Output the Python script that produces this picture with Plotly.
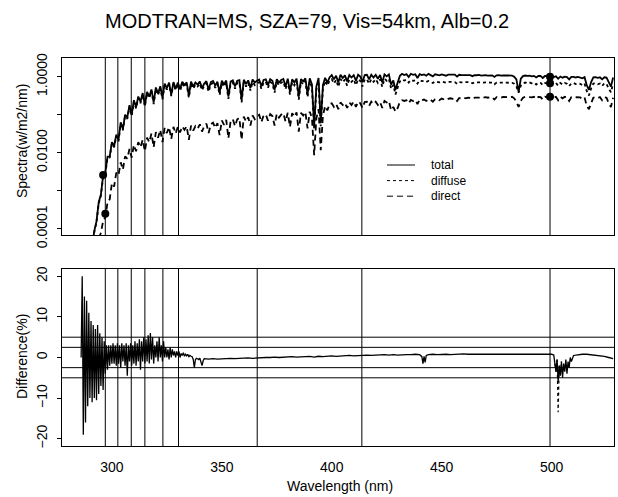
import plotly.graph_objects as go

# ---------------- data ----------------
# spectral grid (nm) for the modelled irradiance spectra
wl_spec = list(range(290, 529))

# total irradiance (W/m2/nm)
total = [
    2.0e-5, 3.5e-5, 8.9e-5, 1.6e-4, 5.0e-4, 8.0e-4, 2.5e-3, 3.0e-3, 7.9e-3, 8.0e-3,
    1.9e-2, 1.5e-2, 3.0e-2, 2.2e-2, 6.3e-2, 4.2e-2, 0.10, 0.085, 0.178, 0.10,
    0.24, 0.16, 0.30, 0.22, 0.37, 0.18, 0.40, 0.30, 0.46, 0.21,
    0.52, 0.36, 0.56, 0.28, 0.66, 0.50, 0.70, 0.34, 0.72, 0.48,
    0.70, 0.48, 0.73, 0.60, 0.71, 0.32, 0.74, 0.55, 0.70, 0.62,
    0.74, 0.50, 0.66, 0.76, 0.45, 0.72, 0.77, 0.58, 0.74, 0.38,
    0.78, 0.62, 0.79, 0.30, 0.74, 0.80, 0.55, 0.78, 0.81, 0.25,
    0.83, 0.64, 0.80, 0.50, 0.84, 0.70, 0.78, 0.84, 0.56, 0.82,
    0.85, 0.60, 0.86, 0.78, 0.45, 0.86, 0.70, 0.82, 0.87, 0.55,
    0.88, 0.40, 0.85, 0.70, 0.89, 0.30, 0.86, 0.75, 0.90, 0.35,
    0.90, 0.62, 0.05, 0.55, 0.92, 0.06, 0.60, 0.93, 0.70, 0.95,
    1.10, 0.85, 1.05, 0.70, 1.12, 0.92, 1.08, 0.75, 1.10, 0.95,
    1.10, 0.78, 1.12, 1.00, 0.72, 1.10, 1.12, 0.85, 1.12, 0.95,
    1.12, 0.88, 1.10, 0.70, 1.15, 1.02, 1.15, 0.62, 0.80, 0.45,
    0.70, 1.05, 1.18, 1.10, 1.16, 0.98, 1.19, 1.12, 1.15, 0.92,
    1.17, 1.10, 1.14, 1.06, 1.18, 1.12, 1.02, 1.15, 1.13, 1.08,
    1.14, 1.11, 1.06, 1.13, 1.12, 1.09, 1.13, 1.00, 1.12, 1.10,
    1.11, 1.08, 1.12, 1.10, 1.03, 1.10, 1.09, 1.11, 1.06, 1.09,
    1.10, 1.07, 1.09, 1.08, 0.98, 1.08, 1.09, 1.06, 1.08, 1.07,
    1.08, 1.04, 1.07, 1.00, 0.85, 0.40, 0.88, 1.03, 1.07, 1.05,
    1.06, 1.02, 1.05, 0.95, 1.04, 1.05, 0.92, 1.04, 1.02, 1.03,
    1.03, 0.98, 1.02, 0.88, 1.01, 0.94, 1.00, 0.97, 0.85, 0.99,
    0.99, 0.95, 0.98, 0.96, 0.90, 0.97, 0.60, 0.45, 0.72, 0.96,
    0.97, 0.93, 0.96, 0.85, 0.96, 0.94, 0.70, 0.55, 0.95,
]

# diffuse irradiance (W/m2/nm)
diffuse = [
    1.9e-5, 3.3e-5, 8.4e-5, 1.5e-4, 4.7e-4, 7.5e-4, 2.35e-3, 2.8e-3, 7.4e-3, 7.5e-3,
    1.75e-2, 1.4e-2, 2.75e-2, 2.0e-2, 5.8e-2, 3.9e-2, 0.092, 0.078, 0.163, 0.092,
    0.22, 0.147, 0.275, 0.2, 0.34, 0.165, 0.37, 0.275, 0.42, 0.19,
    0.475, 0.33, 0.51, 0.255, 0.6, 0.455, 0.64, 0.31, 0.655, 0.44,
    0.62, 0.42, 0.65, 0.53, 0.63, 0.28, 0.65, 0.48, 0.62, 0.55,
    0.65, 0.44, 0.58, 0.67, 0.40, 0.63, 0.68, 0.51, 0.65, 0.33,
    0.68, 0.54, 0.69, 0.26, 0.65, 0.70, 0.48, 0.68, 0.70, 0.21,
    0.72, 0.55, 0.69, 0.43, 0.72, 0.60, 0.67, 0.72, 0.48, 0.70,
    0.73, 0.51, 0.73, 0.66, 0.38, 0.73, 0.59, 0.70, 0.74, 0.47,
    0.75, 0.34, 0.72, 0.59, 0.75, 0.25, 0.73, 0.63, 0.76, 0.29,
    0.76, 0.52, 0.042, 0.46, 0.77, 0.05, 0.50, 0.77, 0.58, 0.78,
    0.86, 0.66, 0.82, 0.54, 0.87, 0.71, 0.84, 0.58, 0.85, 0.73,
    0.85, 0.60, 0.86, 0.77, 0.55, 0.85, 0.86, 0.65, 0.86, 0.73,
    0.86, 0.68, 0.85, 0.54, 0.88, 0.78, 0.88, 0.48, 0.61, 0.34,
    0.52, 0.75, 0.84, 0.79, 0.83, 0.70, 0.82, 0.78, 0.80, 0.66,
    0.80, 0.76, 0.78, 0.73, 0.77, 0.74, 0.68, 0.75, 0.74, 0.71,
    0.74, 0.72, 0.69, 0.73, 0.72, 0.71, 0.72, 0.65, 0.72, 0.71,
    0.72, 0.70, 0.72, 0.71, 0.67, 0.71, 0.70, 0.71, 0.68, 0.70,
    0.71, 0.69, 0.70, 0.70, 0.63, 0.70, 0.70, 0.68, 0.70, 0.69,
    0.70, 0.67, 0.69, 0.65, 0.55, 0.38, 0.58, 0.67, 0.70, 0.68,
    0.70, 0.67, 0.69, 0.62, 0.69, 0.69, 0.60, 0.68, 0.67, 0.68,
    0.69, 0.65, 0.68, 0.58, 0.68, 0.62, 0.68, 0.65, 0.56, 0.67,
    0.68, 0.64, 0.67, 0.65, 0.60, 0.66, 0.42, 0.32, 0.49, 0.66,
    0.67, 0.63, 0.66, 0.57, 0.67, 0.64, 0.49, 0.39, 0.66,
]

# direct irradiance (W/m2/nm)
direct = [
    1.0e-5, 1.5e-5, 2.5e-5, 3.5e-5, 5.6e-5, 8.0e-5, 1.6e-4, 2.0e-4, 5.0e-4, 6.0e-4,
    1.6e-3, 1.3e-3, 3.0e-3, 2.6e-3, 5.6e-3, 3.6e-3, 8.0e-3, 7.0e-3, 1.26e-2, 7.5e-3,
    1.6e-2, 1.1e-2, 1.9e-2, 1.4e-2, 2.2e-2, 1.1e-2, 2.5e-2, 1.9e-2, 3.2e-2, 1.4e-2,
    3.5e-2, 2.5e-2, 4.0e-2, 1.9e-2, 4.5e-2, 3.3e-2, 4.7e-2, 2.3e-2, 4.8e-2, 3.2e-2,
    4.8e-2, 3.4e-2, 4.9e-2, 4.0e-2, 5.0e-2, 2.2e-2, 5.2e-2, 3.8e-2, 5.0e-2, 4.3e-2,
    5.6e-2, 3.6e-2, 5.0e-2, 5.8e-2, 3.3e-2, 5.6e-2, 6.2e-2, 4.5e-2, 6.0e-2, 2.9e-2,
    7.1e-2, 5.4e-2, 7.3e-2, 2.4e-2, 6.8e-2, 7.6e-2, 5.0e-2, 7.6e-2, 8.2e-2, 2.2e-2,
    8.9e-2, 6.6e-2, 8.6e-2, 5.2e-2, 9.5e-2, 7.6e-2, 9.0e-2, 0.10, 6.4e-2, 9.6e-2,
    0.102, 7.0e-2, 0.104, 9.2e-2, 5.2e-2, 0.106, 8.4e-2, 0.10, 0.11, 6.6e-2,
    0.112, 4.8e-2, 0.11, 8.8e-2, 0.115, 3.6e-2, 0.112, 9.6e-2, 0.118, 4.4e-2,
    0.12, 8.2e-2, 0.0087, 8.0e-2, 0.14, 0.0117, 9.5e-2, 0.17, 0.13, 0.19,
    0.20, 0.16, 0.19, 0.14, 0.21, 0.18, 0.205, 0.15, 0.21, 0.18,
    0.22, 0.16, 0.22, 0.2, 0.15, 0.215, 0.22, 0.17, 0.22, 0.19,
    0.22, 0.18, 0.215, 0.15, 0.23, 0.21, 0.23, 0.13, 0.16, 0.12,
    0.15, 0.22, 0.24, 0.23, 0.24, 0.20, 0.245, 0.23, 0.245, 0.19,
    0.25, 0.24, 0.25, 0.23, 0.255, 0.245, 0.22, 0.255, 0.26, 0.24,
    0.265, 0.255, 0.24, 0.26, 0.27, 0.26, 0.27, 0.23, 0.275, 0.265,
    0.28, 0.27, 0.28, 0.275, 0.26, 0.28, 0.285, 0.28, 0.27, 0.285,
    0.29, 0.28, 0.29, 0.285, 0.25, 0.29, 0.29, 0.28, 0.295, 0.29,
    0.295, 0.285, 0.295, 0.27, 0.22, 0.16, 0.23, 0.28, 0.295, 0.29,
    0.295, 0.285, 0.295, 0.26, 0.295, 0.29, 0.25, 0.295, 0.29, 0.29,
    0.295, 0.28, 0.295, 0.24, 0.295, 0.27, 0.295, 0.285, 0.23, 0.29,
    0.29, 0.28, 0.29, 0.285, 0.26, 0.285, 0.17, 0.14, 0.2, 0.28,
    0.29, 0.275, 0.29, 0.24, 0.29, 0.28, 0.2, 0.16, 0.28,
]

# radiometer channel centres (nm)
channels = [297.0, 302.7, 308.8, 315.0, 323.2, 330.3, 366.1, 413.7, 499.3]

# measured irradiance points at the channels
meas_wl = [296.0, 297.0, 499.3, 499.3, 499.3]
meas_val = [2.6e-3, 2.5e-4, 1.0, 0.67, 0.295]

# percentage difference, model vs. reference (UV part on a 0.5 nm grid)
diff_uv = [
    0, 20, -19, 15, -16, 14, -12, 11, -10, 9,
    -11, 8, -10, 7, -10.5, 8, -9, 6, -7, 5,
    -8, 4, -4, 3, -3, 3, -2, 3, -1.5, 3.5,
    -1.5, 3, -2, 3.5, -1.5, 3, -2.5, 3.5, -1, 3,
    -2, 3.5, -4.5, 3, -1, 3.5, -2, 3, -1.5, 4,
    -2, 3.5, -1, 4.5, -3, 4, -1, 5, -1.5, 4.5,
    -1, 5.5, -1.5, 6, -0.5, 5, -1.5, 3, 0, 4,
    -1, 5, 0, 3, -1, 4, 0, 2.5, 0, 2,
    -0.5, 2.5, 0, 2, 0.5, 1.5, 0, 1.5, 0.5, 1.5,
    0, 1, 0.5, 1.2, 0.3, 0.8, 0.4, 0.8, 0.2, 0.5,
    0.3, 0.2, -0.5, -2.5, -0.5, -0.2, -0.3, -0.5, -0.2, -1.0,
    -2.0, -0.8,
]
wl_uv = [286 + 0.5 * i for i in range(len(diff_uv))]

wl_vis = (
    list(range(342, 441, 2))
    + [441, 441.5, 442, 442.5, 443, 444]
    + list(range(446, 501, 2))
    + [501, 501.5, 502, 502.5, 503, 503.5, 504, 504.5, 505,
       505.5, 506, 506.5, 507, 507.5, 508, 508.5, 509]
    + list(range(510, 529, 2))
)
diff_vis = [
    -0.3, -0.4, -0.3, -0.4, -0.3, -0.3, -0.2, -0.3, -0.2, -0.2,
    -0.1, -0.2, -0.1, -0.1, 0, 0, 0.1, 0, 0.1, 0.1,
    0.2, 0.1, 0.2, 0.2, 0.3, 0.1, 0.3, 0.2, 0.3, 0.4,
    0.3, 0.4, 0.4, 0.5, 0.4, 0.5, 0.5, 0.6, 0.5, 0.6,
    0.6, 0.7, 0.6, 0.7, 0.6, 0.7, 0.7, 0.7, 0.8, 0.7,
    0.2, -1.5, 0.3, -1.2, 0.5, 0.7,
    0.8, 0.7, 0.8, 0.8, 0.7, 0.8, 0.8, 0.9, 0.8, 0.8,
    0.9, 0.8, 0.9, 0.9, 0.8, 0.9, 0.9, 0.8, 0.9, 0.9,
    0.8, 0.9, 0.8, 0.9, 0.8, 0.8, 0.9, 0.8,
    0.6, -1.5, -3.5, -0.5, -6, -2, -4.5, -1, -5,
    -1.5, -3.5, -0.5, -4, -1, -2.5, 0, -1,
    0.5, 0.7, 0.8, 0.8, 0.7, 0.6, 0.5, 0.3, 0.0, -0.3,
]

# diffuse-component difference around the 503 nm feature
wl_diff_dif = [501.5, 502, 502.5, 503, 503.5, 504, 504.5]
diff_dif = [-1.5, -3.5, -0.5, -13.5, -2, -4.5, -1]

# reference levels in the difference panel (%)
diff_levels = [5, 2.5, -2.5, -5]

x_ticks = [300, 350, 400, 450, 500]
spec_ticks = [1e-4, 1e-3, 1e-2, 1e-1, 1]
spec_ticktext = ["0.0001", "", "0.0100", "", "1.0000"]
diff_ticks = [-20, -10, 0, 10, 20]

legend_names = ["total", "diffuse", "direct"]
legend_dash = ["solid", "dot", "6px,4px"]

# ---------------- figure ----------------
FONT = "Liberation Sans, Arial, Helvetica, sans-serif"
SPEC_W = 1.8
fig = go.Figure()

fig.add_trace(go.Scatter(x=wl_spec, y=total, mode="lines", name="total",
                         line=dict(color="black", width=SPEC_W), xaxis="x", yaxis="y"))
fig.add_trace(go.Scatter(x=wl_spec, y=diffuse, mode="lines", name="diffuse",
                         line=dict(color="black", width=SPEC_W, dash="dot"), xaxis="x", yaxis="y"))
fig.add_trace(go.Scatter(x=wl_spec, y=direct, mode="lines", name="direct",
                         line=dict(color="black", width=SPEC_W, dash="6px,4px"), xaxis="x", yaxis="y"))
fig.add_trace(go.Scatter(x=meas_wl, y=meas_val, mode="markers",
                         marker=dict(color="black", size=8), xaxis="x", yaxis="y"))

fig.add_trace(go.Scatter(x=wl_uv + wl_vis, y=diff_uv + diff_vis, mode="lines",
                         line=dict(color="black", width=1.3), xaxis="x2", yaxis="y2"))
fig.add_trace(go.Scatter(x=wl_diff_dif, y=diff_dif, mode="lines",
                         line=dict(color="black", width=1.2, dash="dot"), xaxis="x2", yaxis="y2"))

shapes = []
for c in channels:
    for xr, yr in (("x", "y domain"), ("x2", "y2 domain")):
        shapes.append(dict(type="line", xref=xr, yref=yr, x0=c, x1=c, y0=0, y1=1,
                           line=dict(color="black", width=1)))
for lv in diff_levels:
    shapes.append(dict(type="line", xref="x2 domain", yref="y2", x0=0, x1=1, y0=lv, y1=lv,
                       line=dict(color="black", width=1)))

# legend drawn inside the spectra panel: three sample lines and one text block
LEG_ROW = 15.6
for i, ds in enumerate(legend_dash):
    yp = 165 + LEG_ROW * i
    shapes.append(dict(type="line", xref="paper", yref="paper",
                       x0=(387 - 62) / 552, x1=(415 - 62) / 552,
                       y0=(446 - yp) / 388, y1=(446 - yp) / 388,
                       line=dict(color="black", width=1, dash=ds)))
annotations = [
    dict(text="<br>".join(legend_names), xref="paper", yref="paper",
         x=(429 - 62) / 552, y=(446 - (165 + LEG_ROW)) / 388, align="left",
         xanchor="left", yanchor="middle", showarrow=False,
         font=dict(size=12, family=FONT, color="black")),
    dict(text="MODTRAN=MS, SZA=79, Vis=54km, Alb=0.2", xref="paper", yref="paper",
         x=(307 - 62) / 552, y=(446 - 21) / 388, xanchor="center", yanchor="middle",
         showarrow=False, font=dict(size=20, family=FONT, color="black")),
    dict(text="Spectra(w/m2/nm)", xref="paper", yref="paper",
         x=(22 - 62) / 552, y=(446 - 141) / 388, textangle=-90,
         xanchor="center", yanchor="middle", showarrow=False,
         font=dict(size=14, family=FONT, color="black")),
    dict(text="Difference(%)", xref="paper", yref="paper",
         x=(22 - 62) / 552, y=(446 - 357) / 388, textangle=-90,
         xanchor="center", yanchor="middle", showarrow=False,
         font=dict(size=14, family=FONT, color="black")),
    dict(text="Wavelength (nm)", xref="paper", yref="paper",
         x=(340 - 62) / 552, y=(446 - 486) / 388,
         xanchor="center", yanchor="middle", showarrow=False,
         font=dict(size=14, family=FONT, color="black")),
]

axis_common = dict(showline=True, mirror=True, linecolor="black", linewidth=1,
                   showgrid=False, zeroline=False)

fig.update_layout(
    width=618, height=497,
    margin=dict(l=62, r=4, t=58, b=51),
    paper_bgcolor="white", plot_bgcolor="white",
    font=dict(family=FONT, size=14, color="black"),
    showlegend=False,
    shapes=shapes, annotations=annotations,
    xaxis=dict(domain=[0, 1], anchor="y", range=[277.3, 528.4],
               showticklabels=False, ticks="", **axis_common),
    yaxis=dict(domain=[(446 - 235) / 388, 1], anchor="x", type="log",
               range=[-4.16, 0.49], tickvals=spec_ticks, ticktext=spec_ticktext,
               tickangle=-90, ticks="outside", ticklen=4, tickcolor="black",
               ticklabelstandoff=4, **axis_common),
    xaxis2=dict(domain=[0, 1], anchor="y2", range=[277.3, 528.4],
                tickvals=x_ticks, ticks="", ticklabelstandoff=8, **axis_common),
    yaxis2=dict(domain=[0, (446 - 269) / 388], anchor="x2", range=[-21.8, 21.8],
                tickvals=diff_ticks, tickangle=-90, ticks="outside", ticklen=4,
                tickcolor="black", ticklabelstandoff=4, **axis_common),
)

fig.write_html("out.html")
